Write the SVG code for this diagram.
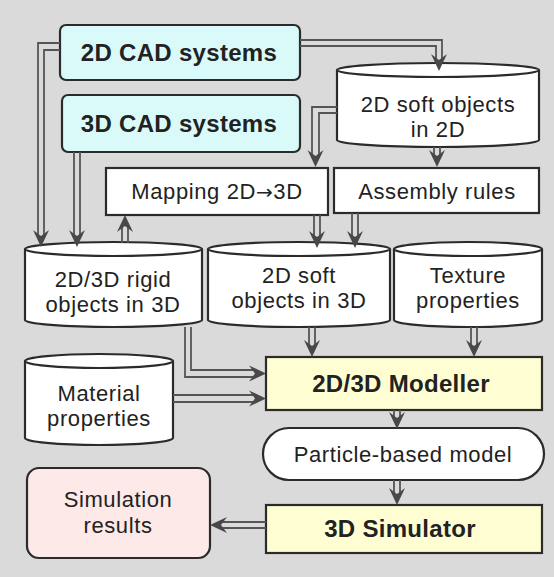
<svg xmlns="http://www.w3.org/2000/svg" width="554" height="577" viewBox="0 0 554 577">
<style>
.box{stroke:#2b2b2b;stroke-width:2.2}
.cad{fill:#dafafa}
.yel{fill:#fefed2}
.wht{fill:#ffffff}
.pink{fill:#fde9e8}
.t{font-family:"Liberation Sans",Arial,sans-serif;font-size:22px;letter-spacing:0.6px;fill:#222;text-anchor:middle}
.b{font-weight:bold;font-size:24px;letter-spacing:0.3px}
.ln{fill:none;stroke:#555;stroke-width:1.8}
.ah{fill:#484848}
.arr{font-family:"DejaVu Sans",sans-serif;font-size:20px}
</style>
<defs>
<path id="ah" d="M0,0 L-8,-17 L0,-11 L8,-17 Z"/>
</defs>
<rect x="0" y="0" width="554" height="577" fill="#dadada"/>

<g id="cad2d">
<rect class="box cad" x="60" y="25" width="240" height="55" rx="6"/>
<text class="t b" x="179" y="61">2D CAD systems</text>
</g>
<g id="cad3d">
<rect class="box cad" x="62" y="95" width="238" height="57" rx="6"/>
<text class="t b" x="179" y="132">3D CAD systems</text>
</g>
<g id="soft2d">
<path class="box wht" d="M337,70 L337,140 A101,7 0 0 0 539,140 L539,70 A101,7 0 0 0 337,70 Z"/>
<path class="box" fill="none" d="M337,70 A101,7 0 0 0 539,70"/>
<text class="t" x="438" y="112">2D soft objects</text>
<text class="t" x="438" y="137">in 2D</text>
</g>
<g id="mapping">
<rect class="box wht" x="106" y="168" width="222" height="47"/>
<text class="t" x="217" y="199">Mapping 2D<tspan class="arr">→</tspan>3D</text>
</g>
<g id="assembly">
<rect class="box wht" x="334" y="168" width="205" height="45"/>
<text class="t" x="437" y="199">Assembly rules</text>
</g>
<g id="rigid">
<path class="box wht" d="M25,249 L25,320 A88.5,7 0 0 0 202,320 L202,249 A88.5,7 0 0 0 25,249 Z"/>
<path class="box" fill="none" d="M25,249 A88.5,7 0 0 0 202,249"/>
<text class="t" x="113" y="287">2D/3D rigid</text>
<text class="t" x="113" y="312">objects in 3D</text>
</g>
<g id="soft3d">
<path class="box wht" d="M208,249 L208,320 A91,7 0 0 0 390,320 L390,249 A91,7 0 0 0 208,249 Z"/>
<path class="box" fill="none" d="M208,249 A91,7 0 0 0 390,249"/>
<text class="t" x="299" y="283">2D soft</text>
<text class="t" x="299" y="308">objects in 3D</text>
</g>
<g id="texture">
<path class="box wht" d="M394,249 L394,320 A74,7 0 0 0 542,320 L542,249 A74,7 0 0 0 394,249 Z"/>
<path class="box" fill="none" d="M394,249 A74,7 0 0 0 542,249"/>
<text class="t" x="468" y="283">Texture</text>
<text class="t" x="468" y="308">properties</text>
</g>
<g id="material">
<path class="box wht" d="M25,361 L25,438 A74,7 0 0 0 173,438 L173,361 A74,7 0 0 0 25,361 Z"/>
<path class="box" fill="none" d="M25,361 A74,7 0 0 0 173,361"/>
<text class="t" x="99" y="401">Material</text>
<text class="t" x="99" y="426">properties</text>
</g>
<g id="modeller">
<rect class="box yel" x="266" y="357" width="276" height="53"/>
<text class="t b" x="401" y="392">2D/3D Modeller</text>
</g>
<g id="particle">
<rect class="box wht" x="263" y="428" width="281" height="52" rx="26"/>
<text class="t" x="403" y="462">Particle-based model</text>
</g>
<g id="simulator">
<rect class="box yel" x="266" y="505" width="276" height="48"/>
<text class="t b" x="400" y="537">3D Simulator</text>
</g>
<g id="results">
<rect class="box pink" x="27" y="468" width="183" height="90" rx="12"/>
<text class="t" x="118" y="507">Simulation</text>
<text class="t" x="118" y="533">results</text>
</g>

<g id="connectors">
<path class="ln" d="M60,43 H38 V236 M60,50 H44 V236"/>
<use href="#ah" class="ah" transform="translate(41,247)"/>
<path class="ln" d="M74,152 V236 M80,152 V236"/>
<use href="#ah" class="ah" transform="translate(77,247)"/>
<path class="ln" d="M122,243 V224 M128,243 V224"/>
<use href="#ah" class="ah" transform="translate(125,215) rotate(180)"/>
<path class="ln" d="M300,40 H442 V62 M300,46 H436 V62"/>
<use href="#ah" class="ah" transform="translate(439,71)"/>
<path class="ln" d="M337,107 H312 V158 M337,113 H319 V158"/>
<use href="#ah" class="ah" transform="translate(315.5,167)"/>
<path class="ln" d="M434,147 V158 M440,147 V158"/>
<use href="#ah" class="ah" transform="translate(437,167)"/>
<path class="ln" d="M314,215 V238 M320,215 V238"/>
<use href="#ah" class="ah" transform="translate(317,248)"/>
<path class="ln" d="M352,213 V238 M358,213 V238"/>
<use href="#ah" class="ah" transform="translate(355,248)"/>
<path class="ln" d="M309,327 V347 M315,327 V347"/>
<use href="#ah" class="ah" transform="translate(312,357)"/>
<path class="ln" d="M471,327 V347 M477,327 V347"/>
<use href="#ah" class="ah" transform="translate(474,357)"/>
<path class="ln" d="M185,327 V377 H257 M191,327 V370 H257"/>
<use href="#ah" class="ah" transform="translate(266,373.5) rotate(-90)"/>
<path class="ln" d="M173,395 H257 M173,402 H257"/>
<use href="#ah" class="ah" transform="translate(266,398.5) rotate(-90)"/>
<path class="ln" d="M394,410 V420 M400,410 V420"/>
<use href="#ah" class="ah" transform="translate(397,429)"/>
<path class="ln" d="M394,480 V496 M400,480 V496"/>
<use href="#ah" class="ah" transform="translate(397,505)"/>
<path class="ln" d="M266,522 H219 M266,528 H219"/>
<use href="#ah" class="ah" transform="translate(210,525) rotate(90)"/>
</g>
</svg>
